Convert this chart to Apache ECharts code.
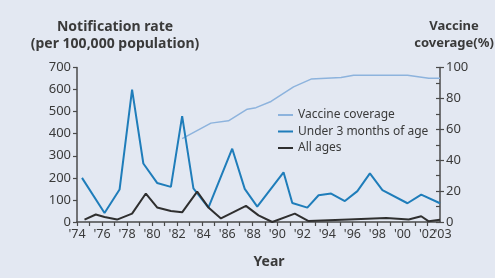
<!DOCTYPE html>
<html style="height: 100%">
<head>
<meta charset="utf-8">
<script src="https://cdn.jsdelivr.net/npm/echarts@6/dist/echarts.min.js"></script>
</head>
<body style="height: 100%; margin: 0; background: #e3e8f2">
<div id="container" style="width: 495px; height: 278px"></div>
<script type="text/javascript">
// [year, rate per 100,000]
var under3 = [
    [1974.4, 200], [1976.2, 41], [1977.4, 147], [1978.4, 600], [1979.3, 265],
    [1980.4, 177], [1981.5, 159], [1982.4, 480], [1983.3, 152], [1984.5, 65],
    [1986.4, 332], [1987.4, 150], [1988.4, 70], [1990.5, 225], [1991.2, 86],
    [1992.4, 65], [1993.3, 121], [1994.3, 129], [1995.4, 95], [1996.4, 140],
    [1997.4, 220], [1998.4, 144], [2000.4, 85], [2001.5, 124], [2003, 85]
];
var allAges = [
    [1974.6, 11], [1975.5, 34], [1976.2, 23], [1977.2, 11], [1978.4, 38],
    [1979.5, 129], [1980.4, 66], [1981.5, 50], [1982.4, 44], [1983.6, 138],
    [1984.5, 66], [1985.5, 16], [1986.5, 45], [1987.5, 73], [1988.5, 30],
    [1989.6, 0], [1991.4, 38], [1992.5, 4], [1995.7, 11], [1998.7, 18],
    [2000.5, 11], [2001.5, 26], [2002.1, 3], [2003, 10]
];
// [year, coverage %]
var coverage = [
    [1982.4, 54], [1984.7, 64], [1986.1, 65.5], [1987.6, 73], [1988.3, 74],
    [1989.5, 78], [1991.3, 87.5], [1992.7, 92.5], [1995.1, 93.5], [1996.1, 95],
    [2000.4, 95], [2002.1, 93], [2003, 93]
];
var seriesNames = ['Vaccine coverage', 'Under 3 months of age', 'All ages'];
var lastYear = 2003;

var font = 'Noto Sans';
var axisColor = '#4a4a4a';
var textColor = '#3a3a3a';

function yearLabel(v) {
    return "'" + String(v).slice(2);
}

var myChart = echarts.init(document.getElementById('container'));
var option = {
    backgroundColor: '#e3e8f2',
    animation: false,
    title: [
        {
            text: 'Notification rate\n(per 100,000 population)',
            left: 110, top: 14, textAlign: 'center',
            textStyle: { fontFamily: font, fontSize: 14, fontWeight: 'bold', color: textColor, lineHeight: 17, align: 'center' }
        },
        {
            text: 'Vaccine\ncoverage(%)',
            left: 449, top: 13, textAlign: 'center',
            textStyle: { fontFamily: font, fontSize: 13, fontWeight: 'bold', color: textColor, lineHeight: 17, align: 'center' }
        },
        {
            text: 'Year',
            left: 264, top: 250, textAlign: 'center',
            textStyle: { fontFamily: font, fontSize: 14, fontWeight: 'bold', color: textColor }
        }
    ],
    legend: {
        orient: 'vertical',
        left: 273, top: 104,
        itemWidth: 15, itemHeight: 2, itemGap: 4.5,
        icon: 'rect',
        data: seriesNames,
        textStyle: { fontFamily: font, fontSize: 12, color: textColor }
    },
    grid: { left: 77, right: 55, top: 67.5, bottom: 56 },
    xAxis: {
        type: 'value', min: 1974, max: lastYear, interval: 1,
        axisLine: { lineStyle: { color: axisColor, width: 1.5 } },
        axisTick: { length: 4, lineStyle: { color: axisColor, width: 1.2 } },
        splitLine: { show: false },
        axisLabel: {
            fontFamily: font, fontSize: 12.5, color: textColor, margin: 6,
            showMinLabel: true, showMaxLabel: false, hideOverlap: false,
            formatter: function (v) {
                return (Math.round(v) % 2 === 0 && v !== lastYear) ? yearLabel(Math.round(v)) : '';
            }
        }
    },
    yAxis: [
        {
            type: 'value', min: 0, max: 700, interval: 100, position: 'left',
            axisLine: { show: true, lineStyle: { color: axisColor, width: 1.5 } },
            axisTick: { show: true, length: 4, lineStyle: { color: axisColor, width: 1.2 } },
            splitLine: { show: false },
            axisLabel: { fontFamily: font, fontSize: 13, color: textColor, margin: 6 }
        },
        {
            type: 'value', min: 0, max: 100, interval: 20, position: 'right',
            axisLine: { show: true, lineStyle: { color: axisColor, width: 1.5 } },
            axisTick: { show: true, length: 4, lineStyle: { color: axisColor, width: 1.2 } },
            splitLine: { show: false },
            axisLabel: { fontFamily: font, fontSize: 13, color: textColor, margin: 6 }
        },
        {
            // inward minor ticks on the right axis
            type: 'value', min: 0, max: 100, interval: 10, position: 'right',
            axisLine: { show: false },
            axisTick: { show: true, inside: true, length: 4, lineStyle: { color: axisColor, width: 1.2 } },
            splitLine: { show: false },
            axisLabel: { show: false }
        }
    ],
    series: [
        {
            name: seriesNames[0], type: 'line', yAxisIndex: 1, data: coverage,
            symbol: 'none', lineStyle: { color: '#8db3dd', width: 1.5 }, itemStyle: { color: '#8db3dd' }
        },
        {
            name: seriesNames[1], type: 'line', data: under3,
            symbol: 'none', lineStyle: { color: '#1f7dba', width: 2 }, itemStyle: { color: '#1f7dba' }
        },
        {
            name: seriesNames[2], type: 'line', data: allAges,
            symbol: 'none', lineStyle: { color: '#2f2f2f', width: 2 }, itemStyle: { color: '#2f2f2f' }
        }
    ]
};
myChart.setOption(option);

// last year label, placed through the x axis scale
var lastPt = myChart.convertToPixel({ xAxisIndex: 0, yAxisIndex: 0 }, [lastYear, 0]);
myChart.setOption({
    graphic: [{
        type: 'text', x: lastPt[0] + 3, y: lastPt[1] + 6,
        style: {
            text: yearLabel(lastYear), fontFamily: font, fontSize: 12.5, fill: textColor,
            align: 'center', verticalAlign: 'top'
        }
    }]
});
</script>
</body>
</html>
